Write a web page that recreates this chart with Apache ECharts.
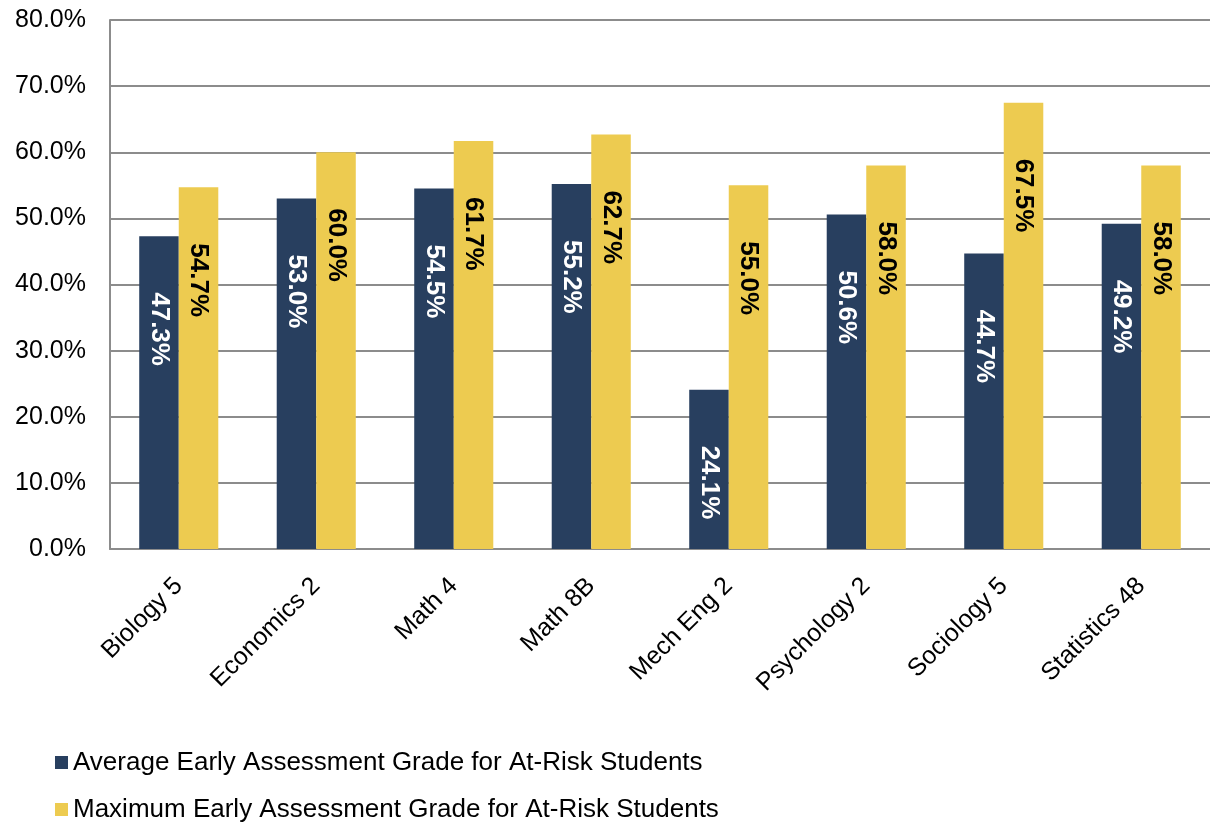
<!DOCTYPE html>
<html>
<head>
<meta charset="utf-8">
<style>
  html, body { margin: 0; padding: 0; background: #fff; }
  #chart { width: 1210px; height: 827px; }
</style>
<script src="https://cdn.jsdelivr.net/npm/echarts@6/dist/echarts.min.js"></script>
</head>
<body>
<div id="chart"></div>
<script>
const categories = ['Biology 5', 'Economics 2', 'Math 4', 'Math 8B', 'Mech Eng 2', 'Psychology 2', 'Sociology 5', 'Statistics 48'];
const averageGrade = [47.3, 53.0, 54.5, 55.2, 24.1, 50.6, 44.7, 49.2];
const maximumGrade = [54.7, 60.0, 61.7, 62.7, 55.0, 58.0, 67.5, 58.0];
const seriesNames = ['Average Early Assessment Grade for At-Risk Students', 'Maximum Early Assessment Grade for At-Risk Students'];
const yTicks = { min: 0, max: 80, interval: 10 };

const FONT = '"Liberation Sans", Arial, sans-serif';
const chart = echarts.init(document.getElementById('chart'));

function barLabel(color) {
  return {
    show: true,
    position: 'insideTop',
    distance: 56,
    rotate: -90,
    align: 'left',
    verticalAlign: 'middle',
    color: color,
    fontFamily: FONT,
    fontWeight: 'bold',
    fontSize: 26,
    formatter: p => p.value.toFixed(1) + '%'
  };
}

chart.setOption({
  animation: false,
  backgroundColor: '#ffffff',
  grid: { left: 110, right: 0, top: 20, bottom: 278, containLabel: false },
  legend: {
    orient: 'vertical',
    left: 50,
    top: 744,
    height: 83,
    itemWidth: 13,
    itemHeight: 13,
    itemGap: 20,
    icon: 'rect',
    textStyle: { fontFamily: FONT, fontSize: 26, lineHeight: 27, color: '#000' },
    data: seriesNames
  },
  xAxis: {
    type: 'category',
    data: categories,
    axisLine: { show: true, lineStyle: { color: '#8c8c8c', width: 2 } },
    axisTick: { show: false },
    axisLabel: {
      rotate: 45,
      margin: 33,
      interval: 0,
      color: '#000',
      fontFamily: FONT,
      fontSize: 25
    }
  },
  yAxis: {
    type: 'value',
    min: yTicks.min,
    max: yTicks.max,
    interval: yTicks.interval,
    axisLine: { show: true, lineStyle: { color: '#8c8c8c', width: 2 } },
    axisTick: { show: false },
    splitLine: { show: true, lineStyle: { color: '#8c8c8c', width: 2 } },
    axisLabel: {
      margin: 24,
      color: '#000',
      fontFamily: FONT,
      fontSize: 25,
      formatter: v => v.toFixed(1) + '%'
    }
  },
  series: [
    {
      name: seriesNames[0],
      type: 'bar',
      data: averageGrade,
      barGap: '0%',
      barCategoryGap: '42.5%',
      itemStyle: { color: '#283F5F' },
      label: barLabel('#ffffff')
    },
    {
      name: seriesNames[1],
      type: 'bar',
      data: maximumGrade,
      barGap: '0%',
      barCategoryGap: '42.5%',
      itemStyle: { color: '#EDCB50' },
      label: barLabel('#000000')
    }
  ]
});
</script>
</body>
</html>
